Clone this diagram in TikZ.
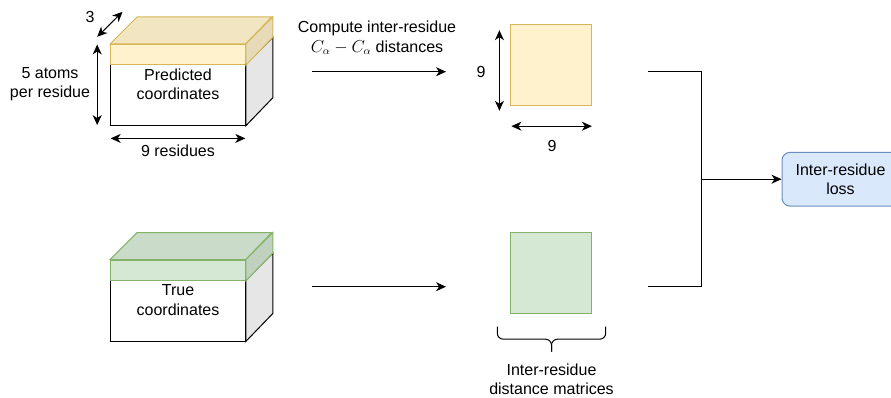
\documentclass[tikz,border=0pt]{standalone}
\usepackage{fontspec}
\setmainfont{Liberation Sans}
\usetikzlibrary{arrows.meta,positioning,calc}
\definecolor{predfill}{HTML}{FFF2CC}
\definecolor{predtop}{HTML}{F2E6C2}
\definecolor{predside}{HTML}{E6DAB8}
\definecolor{preddraw}{HTML}{D6B656}
\definecolor{truefill}{HTML}{D5E8D4}
\definecolor{truetop}{HTML}{CADCC9}
\definecolor{trueside}{HTML}{C0D1BF}
\definecolor{truedraw}{HTML}{82B366}
\definecolor{lossfill}{HTML}{DAE8FC}
\definecolor{lossdraw}{HTML}{6C8EBF}
\definecolor{sidegray}{HTML}{E6E6E6}

\begin{document}
\begin{tikzpicture}[
  x=1pt, y=-1pt,
  >={Stealth[length=10pt,width=9pt,inset=3pt]},
  txt/.style={font=\fontsize{16}{19.5}\selectfont, align=center, inner sep=0pt},
  body/.style={draw, fill=white, line width=1pt, minimum width=134.6pt,
               minimum height=60.5pt, inner sep=0pt},
  strip/.style={draw, line width=1pt, minimum width=134.6pt,
                minimum height=20.5pt, inner sep=0pt},
  distmat/.style={draw, line width=1pt, minimum size=81pt, inner sep=0pt},
  loss/.style={txt, draw=lossdraw, fill=lossfill, rounded corners=8pt,
               minimum width=117pt, minimum height=53.7pt, line width=1pt},
  link/.style={line width=1pt},
]
  \useasboundingbox (0,0) rectangle (891,398);

  % coordinate cuboids
  \node[body] (predbody) at (178,95.05) {};
  \node[strip, draw=preddraw, fill=predfill] (predstrip) at (178,54.55) {};
  \node[body] (truebody) at (178,310.75) {};
  \node[strip, draw=truedraw, fill=truefill] (truestrip) at (178,270.25) {};

  \foreach \b in {pred, true} {
    \draw[link, fill=sidegray] (\b body.north east)
      -- ++(27,-27) -- ++(0,60.5) -- (\b body.south east) -- cycle;
    \draw[link, draw=\b draw, fill=\b top] (\b strip.north west)
      -- ++(27,-27) -- ++(134.6,0) -- (\b strip.north east) -- cycle;
    \draw[link, draw=\b draw, fill=\b side] (\b strip.north east)
      -- ++(27,-27) -- ++(0,20.5) -- (\b strip.south east) -- cycle;
  }

  \node[txt] (predtxt) at ([yshift=-20pt]predbody.north) {Predicted\\coordinates};
  \node[txt] (truetxt) at ([yshift=-20pt]truebody.north) {True\\coordinates};

  % dimensions of the prediction
  \coordinate (d3a) at ($(predstrip.north west)+(-13,-7)$);
  \coordinate (d3b) at ($(predstrip.north west)+(12.3,-32)$);
  \draw[link, <->] (d3a) -- (d3b);
  \node[txt] (depth) at (90,17) {3};
  \coordinate (dha) at ($(predstrip.north west)+(-13,0.7)$);
  \coordinate (dhb) at ($(predbody.south west)+(-13,-0.7)$);
  \draw[link, <->] (dha) -- (dhb);
  \node[txt] (atoms) at (50,84) {5 atoms\\per residue};
  \coordinate (dwa) at ($(predbody.south west)+(0.5,12.6)$);
  \coordinate (dwb) at ($(predbody.south east)+(-0.5,12.6)$);
  \draw[link, <->] (dwa) -- (dwb);
  \node[txt, below=6pt of $(dwa)!0.5!(dwb)$] (resid) {9 residues};

  % distance matrices
  \node[distmat, draw=preddraw, fill=predfill] (predmat) at (551.4,64.8) {};
  \node[distmat, draw=truedraw, fill=truefill] (truemat) at (551.3,273.2) {};

  \coordinate (mva) at ($(predmat.north west)+(-11,6.4)$);
  \coordinate (mvb) at ($(predmat.south west)+(-11,5)$);
  \draw[link, <->] (mva) -- (mvb);
  \node[txt] (rows) at (481,72) {9};
  \coordinate (mha) at ($(predmat.south west)+(1,20.4)$);
  \coordinate (mhb) at ($(predmat.south east)+(-0.5,20.4)$);
  \draw[link, <->] (mha) -- (mhb);
  \node[txt] (cols) at (552,146) {9};

  \draw[link, rounded corners=6pt] (497.3,326.7) -- (497.3,339.2) -- (551.5,339.2) -- (551.5,351.7);
  \draw[link, rounded corners=6pt] (605.7,326.7) -- (605.7,339.2) -- (551.5,339.2) -- (551.5,351.7);
  \node[txt] (brace) at (551.5,379.5) {Inter-residue\\distance matrices};

  % compute step
  \coordinate (predout) at (312,71.7);
  \coordinate (predin) at (446,71.7);
  \draw[link, ->] (predout) -- (predin);
  \node[txt] (compute) at (377,38) {Compute inter-residue\\$C_\alpha - C_\alpha$ distances};
  \coordinate (trueout) at (312.3,286.7);
  \coordinate (truein) at (446,286.7);
  \draw[link, ->] (trueout) -- (truein);

  % loss
  \node[loss] (lossbox) at (840.5,179.2) {Inter-residue\\loss};
  \coordinate (predend) at (648.3,71.7);
  \coordinate (trueend) at (648.3,286.7);
  \coordinate (join) at (701.7,179.2);
  \draw[link] (predend) -| (join) |- (trueend);
  \draw[link, ->] (join) -- (lossbox);
\end{tikzpicture}
\end{document}
